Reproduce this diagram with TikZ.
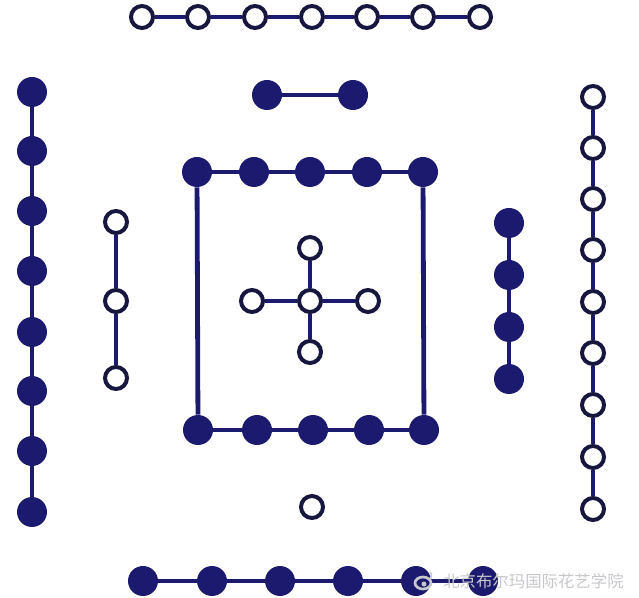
\documentclass[tikz,border=0pt]{standalone}
\usepackage{fontspec}
\newfontfamily\cjk{Noto Sans CJK SC}
\definecolor{navy}{HTML}{1C1A6E}
\definecolor{ink}{HTML}{17163F}
\definecolor{wmgray}{HTML}{C8C8CC}
\tikzset{
  yin/.style = {circle, fill=navy, inner sep=0pt, minimum size=22.5pt},
  yang/.style = {circle, draw=ink, fill=white, line width=3pt, inner sep=0pt, minimum size=16.5pt},
  link/.style = {navy, line width=3.6pt}
}
\begin{document}
\begin{tikzpicture}[x = 0.75pt, y = -0.75pt]
    \useasboundingbox (0, 0) rectangle (639, 598);
    % top row, seven
    \foreach \i/\x in {1/142, 2/198, 3/255, 4/312, 5/367, 6/423, 7/480}
        \node[yang] (top\i) at (\x, 17) {};
    \foreach \i [remember = \i as \last (initially 1)] in {2,...,7}
        \draw[link] (top\last) -- (top\i);
    % top pair, two
    \node[yin] (pair1) at (267, 95) {};
    \node[yin] (pair2) at (353, 95) {};
    \draw[link] (pair1) -- (pair2);
    % left column, eight
    \foreach \i/\y in {1/92, 2/151, 3/211, 4/271, 5/332, 6/391, 7/451, 8/512}
        \node[yin] (left\i) at (32, \y) {};
    \foreach \i [remember = \i as \last (initially 1)] in {2,...,8}
        \draw[link] (left\last) -- (left\i);
    % inner left, three
    \foreach \i/\y in {1/222, 2/301, 3/378}
        \node[yang] (inl\i) at (116, \y) {};
    \draw[link] (inl1) -- (inl2);
    \draw[link] (inl2) -- (inl3);
    % inner right, four
    \foreach \i/\y in {1/223, 2/275, 3/327, 4/379}
        \node[yin] (inr\i) at (509, \y) {};
    \foreach \i [remember = \i as \last (initially 1)] in {2,...,4}
        \draw[link] (inr\last) -- (inr\i);
    % right column, nine
    \foreach \i/\y in {1/97, 2/148, 3/199, 4/250, 5/302, 6/353, 7/405, 8/457, 9/509}
        \node[yang] (right\i) at (593, \y) {};
    \foreach \i [remember = \i as \last (initially 1)] in {2,...,9}
        \draw[link] (right\last) -- (right\i);
    % square, ten
    \foreach \i/\x in {1/197, 2/254, 3/310, 4/367, 5/423}
        \node[yin] (sqt\i) at (\x, 172) {};
    \foreach \i/\x in {1/198, 2/257, 3/313, 4/369, 5/424}
        \node[yin] (sqb\i) at (\x, 430) {};
    \foreach \i [remember = \i as \last (initially 1)] in {2,...,5} {
        \draw[link] (sqt\last) -- (sqt\i);
        \draw[link] (sqb\last) -- (sqb\i);
    }
    \draw[link] (sqt1) -- (sqb1);
    \draw[link] (sqt5) -- (sqb5);
    % centre cross, five
    \node[yang] (mid) at (310, 301) {};
    \node[yang] (midn) at (310, 248) {};
    \node[yang] (mids) at (310, 352) {};
    \node[yang] (midw) at (252, 301) {};
    \node[yang] (mide) at (368, 301) {};
    \foreach \d in {n, s, w, e}
        \draw[link] (mid) -- (mid\d);
    % bottom single
    \node[yang] (one) at (312, 507) {};
    % bottom row, six
    \foreach \i/\x in {1/143, 2/212, 3/280, 4/348, 5/416, 6/483}
        \node[yin] (bot\i) at (\x, 581) {};
    \foreach \i [remember = \i as \last (initially 1)] in {2,...,6}
        \draw[link] (bot\last) -- (bot\i);
    % watermark
    \draw[wmgray, line width=2pt] (423, 583) ellipse (8 and 6);
    \fill[wmgray] (424, 584) circle (2.5);
    \draw[wmgray, line width=1.2pt] (430, 572) arc (-60:60:3 and 4);
    \node[wmgray, anchor = west, inner sep = 0pt] (weibo) at (443, 581)
        {\cjk\fontsize{12.3}{13}\selectfont 北京布尔玛国际花艺学院};
\end{tikzpicture}
\end{document}
